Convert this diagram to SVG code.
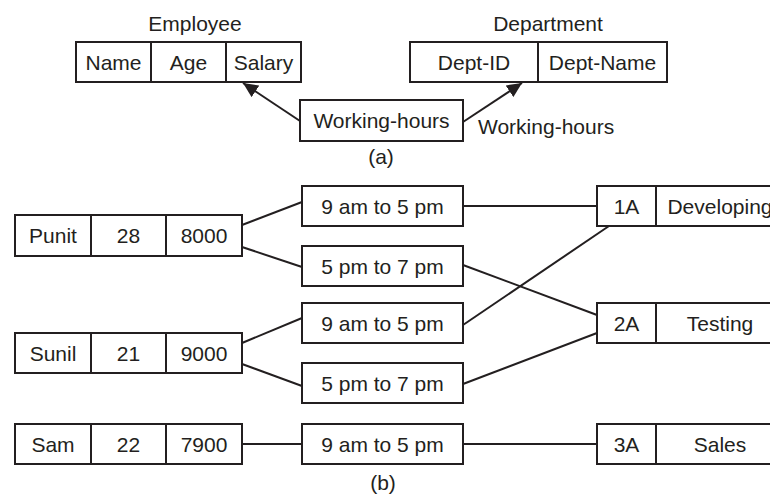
<svg xmlns="http://www.w3.org/2000/svg" width="770" height="495" viewBox="0 0 770 495">
<style>
  .box { fill: #ffffff; stroke: #231f20; stroke-width: 2; }
  .div { stroke: #231f20; stroke-width: 2; }
  .t { font-family: "Liberation Sans", Arial, sans-serif; font-size: 21px; fill: #231f20; text-anchor: middle; }
  .ts { font-family: "Liberation Sans", Arial, sans-serif; font-size: 21px; fill: #231f20; }
  .conn { stroke: #231f20; stroke-width: 2; fill: none; }
</style>
<defs>
  <marker id="arr" markerUnits="userSpaceOnUse" markerWidth="16" markerHeight="14" refX="15" refY="7" orient="auto">
    <path d="M0,0 L15,7 L0,14 Z" fill="#231f20"/>
  </marker>
</defs>
<rect width="770" height="495" fill="#ffffff"/>

<!-- (a) -->
<g id="employee">
  <text class="t" x="195" y="31">Employee</text>
  <rect class="box" x="76" y="42" width="225" height="40"/>
  <line class="div" x1="151" y1="42" x2="151" y2="82"/>
  <line class="div" x1="226" y1="42" x2="226" y2="82"/>
  <text class="t" x="113.5" y="69.5">Name</text>
  <text class="t" x="188.5" y="69.5">Age</text>
  <text class="t" x="263.5" y="69.5">Salary</text>
</g>
<g id="department">
  <text class="t" x="548" y="31">Department</text>
  <rect class="box" x="410" y="42" width="257" height="40"/>
  <line class="div" x1="538" y1="42" x2="538" y2="82"/>
  <text class="t" x="474" y="69.5">Dept-ID</text>
  <text class="t" x="602.5" y="69.5">Dept-Name</text>
</g>
<g id="working-hours">
  <rect class="box" x="300" y="100" width="163" height="41"/>
  <text class="t" x="381.5" y="128">Working-hours</text>
</g>
<g id="label-a">
  <text class="t" x="381" y="164">(a)</text>
</g>

<!-- (b) -->
<g id="punit">
  <rect class="box" x="15" y="215" width="227" height="41"/>
  <line class="div" x1="91" y1="215" x2="91" y2="256"/>
  <line class="div" x1="166" y1="215" x2="166" y2="256"/>
  <text class="t" x="53" y="243">Punit</text>
  <text class="t" x="128.5" y="243">28</text>
  <text class="t" x="204" y="243">8000</text>
</g>
<g id="sunil">
  <rect class="box" x="15" y="333" width="227" height="40"/>
  <line class="div" x1="91" y1="333" x2="91" y2="373"/>
  <line class="div" x1="166" y1="333" x2="166" y2="373"/>
  <text class="t" x="53" y="360.5">Sunil</text>
  <text class="t" x="128.5" y="360.5">21</text>
  <text class="t" x="204" y="360.5">9000</text>
</g>
<g id="sam">
  <rect class="box" x="15" y="424" width="227" height="40"/>
  <line class="div" x1="91" y1="424" x2="91" y2="464"/>
  <line class="div" x1="166" y1="424" x2="166" y2="464"/>
  <text class="t" x="53" y="451.5">Sam</text>
  <text class="t" x="128.5" y="451.5">22</text>
  <text class="t" x="204" y="451.5">7900</text>
</g>

<g id="punit-9to5">
  <rect class="box" x="302" y="186" width="161" height="40"/>
  <text class="t" x="382.5" y="213.5">9 am to 5 pm</text>
</g>
<g id="punit-5to7">
  <rect class="box" x="302" y="246" width="161" height="40"/>
  <text class="t" x="382.5" y="273.5">5 pm to 7 pm</text>
</g>
<g id="sunil-9to5">
  <rect class="box" x="302" y="303" width="161" height="40"/>
  <text class="t" x="382.5" y="330.5">9 am to 5 pm</text>
</g>
<g id="sunil-5to7">
  <rect class="box" x="302" y="363" width="161" height="40"/>
  <text class="t" x="382.5" y="390.5">5 pm to 7 pm</text>
</g>
<g id="sam-9to5">
  <rect class="box" x="302" y="424" width="161" height="40"/>
  <text class="t" x="382.5" y="451.5">9 am to 5 pm</text>
</g>

<g id="dept-1a">
  <rect class="box" x="597" y="186" width="190" height="40"/>
  <line class="div" x1="656" y1="186" x2="656" y2="226"/>
  <text class="t" x="626.5" y="213.5">1A</text>
  <text class="t" x="720" y="213.5">Developing</text>
</g>
<g id="dept-2a">
  <rect class="box" x="597" y="303" width="190" height="40"/>
  <line class="div" x1="656" y1="303" x2="656" y2="343"/>
  <text class="t" x="626.5" y="330.5">2A</text>
  <text class="t" x="720" y="330.5">Testing</text>
</g>
<g id="dept-3a">
  <rect class="box" x="597" y="424" width="190" height="40"/>
  <line class="div" x1="656" y1="424" x2="656" y2="464"/>
  <text class="t" x="626.5" y="451.5">3A</text>
  <text class="t" x="720" y="451.5">Sales</text>
</g>
<g id="label-b">
  <text class="t" x="383" y="490">(b)</text>
</g>

<g id="connectors">
  <line class="conn" x1="300" y1="121" x2="243" y2="83" marker-end="url(#arr)"/>
  <line class="conn" x1="463" y1="122" x2="522" y2="83" marker-end="url(#arr)"/>
  <text class="ts" x="478" y="134">Working-hours</text>

  <line class="conn" x1="242" y1="225" x2="302" y2="202"/>
  <line class="conn" x1="242" y1="247" x2="302" y2="267"/>
  <line class="conn" x1="242" y1="343" x2="302" y2="318"/>
  <line class="conn" x1="242" y1="364" x2="302" y2="386"/>
  <line class="conn" x1="242" y1="444" x2="302" y2="444"/>

  <line class="conn" x1="463" y1="206" x2="597" y2="206"/>
  <line class="conn" x1="463" y1="265" x2="597" y2="315"/>
  <line class="conn" x1="463" y1="325" x2="609" y2="226"/>
  <line class="conn" x1="463" y1="384" x2="597" y2="333"/>
  <line class="conn" x1="463" y1="444" x2="597" y2="444"/>
</g>
</svg>
